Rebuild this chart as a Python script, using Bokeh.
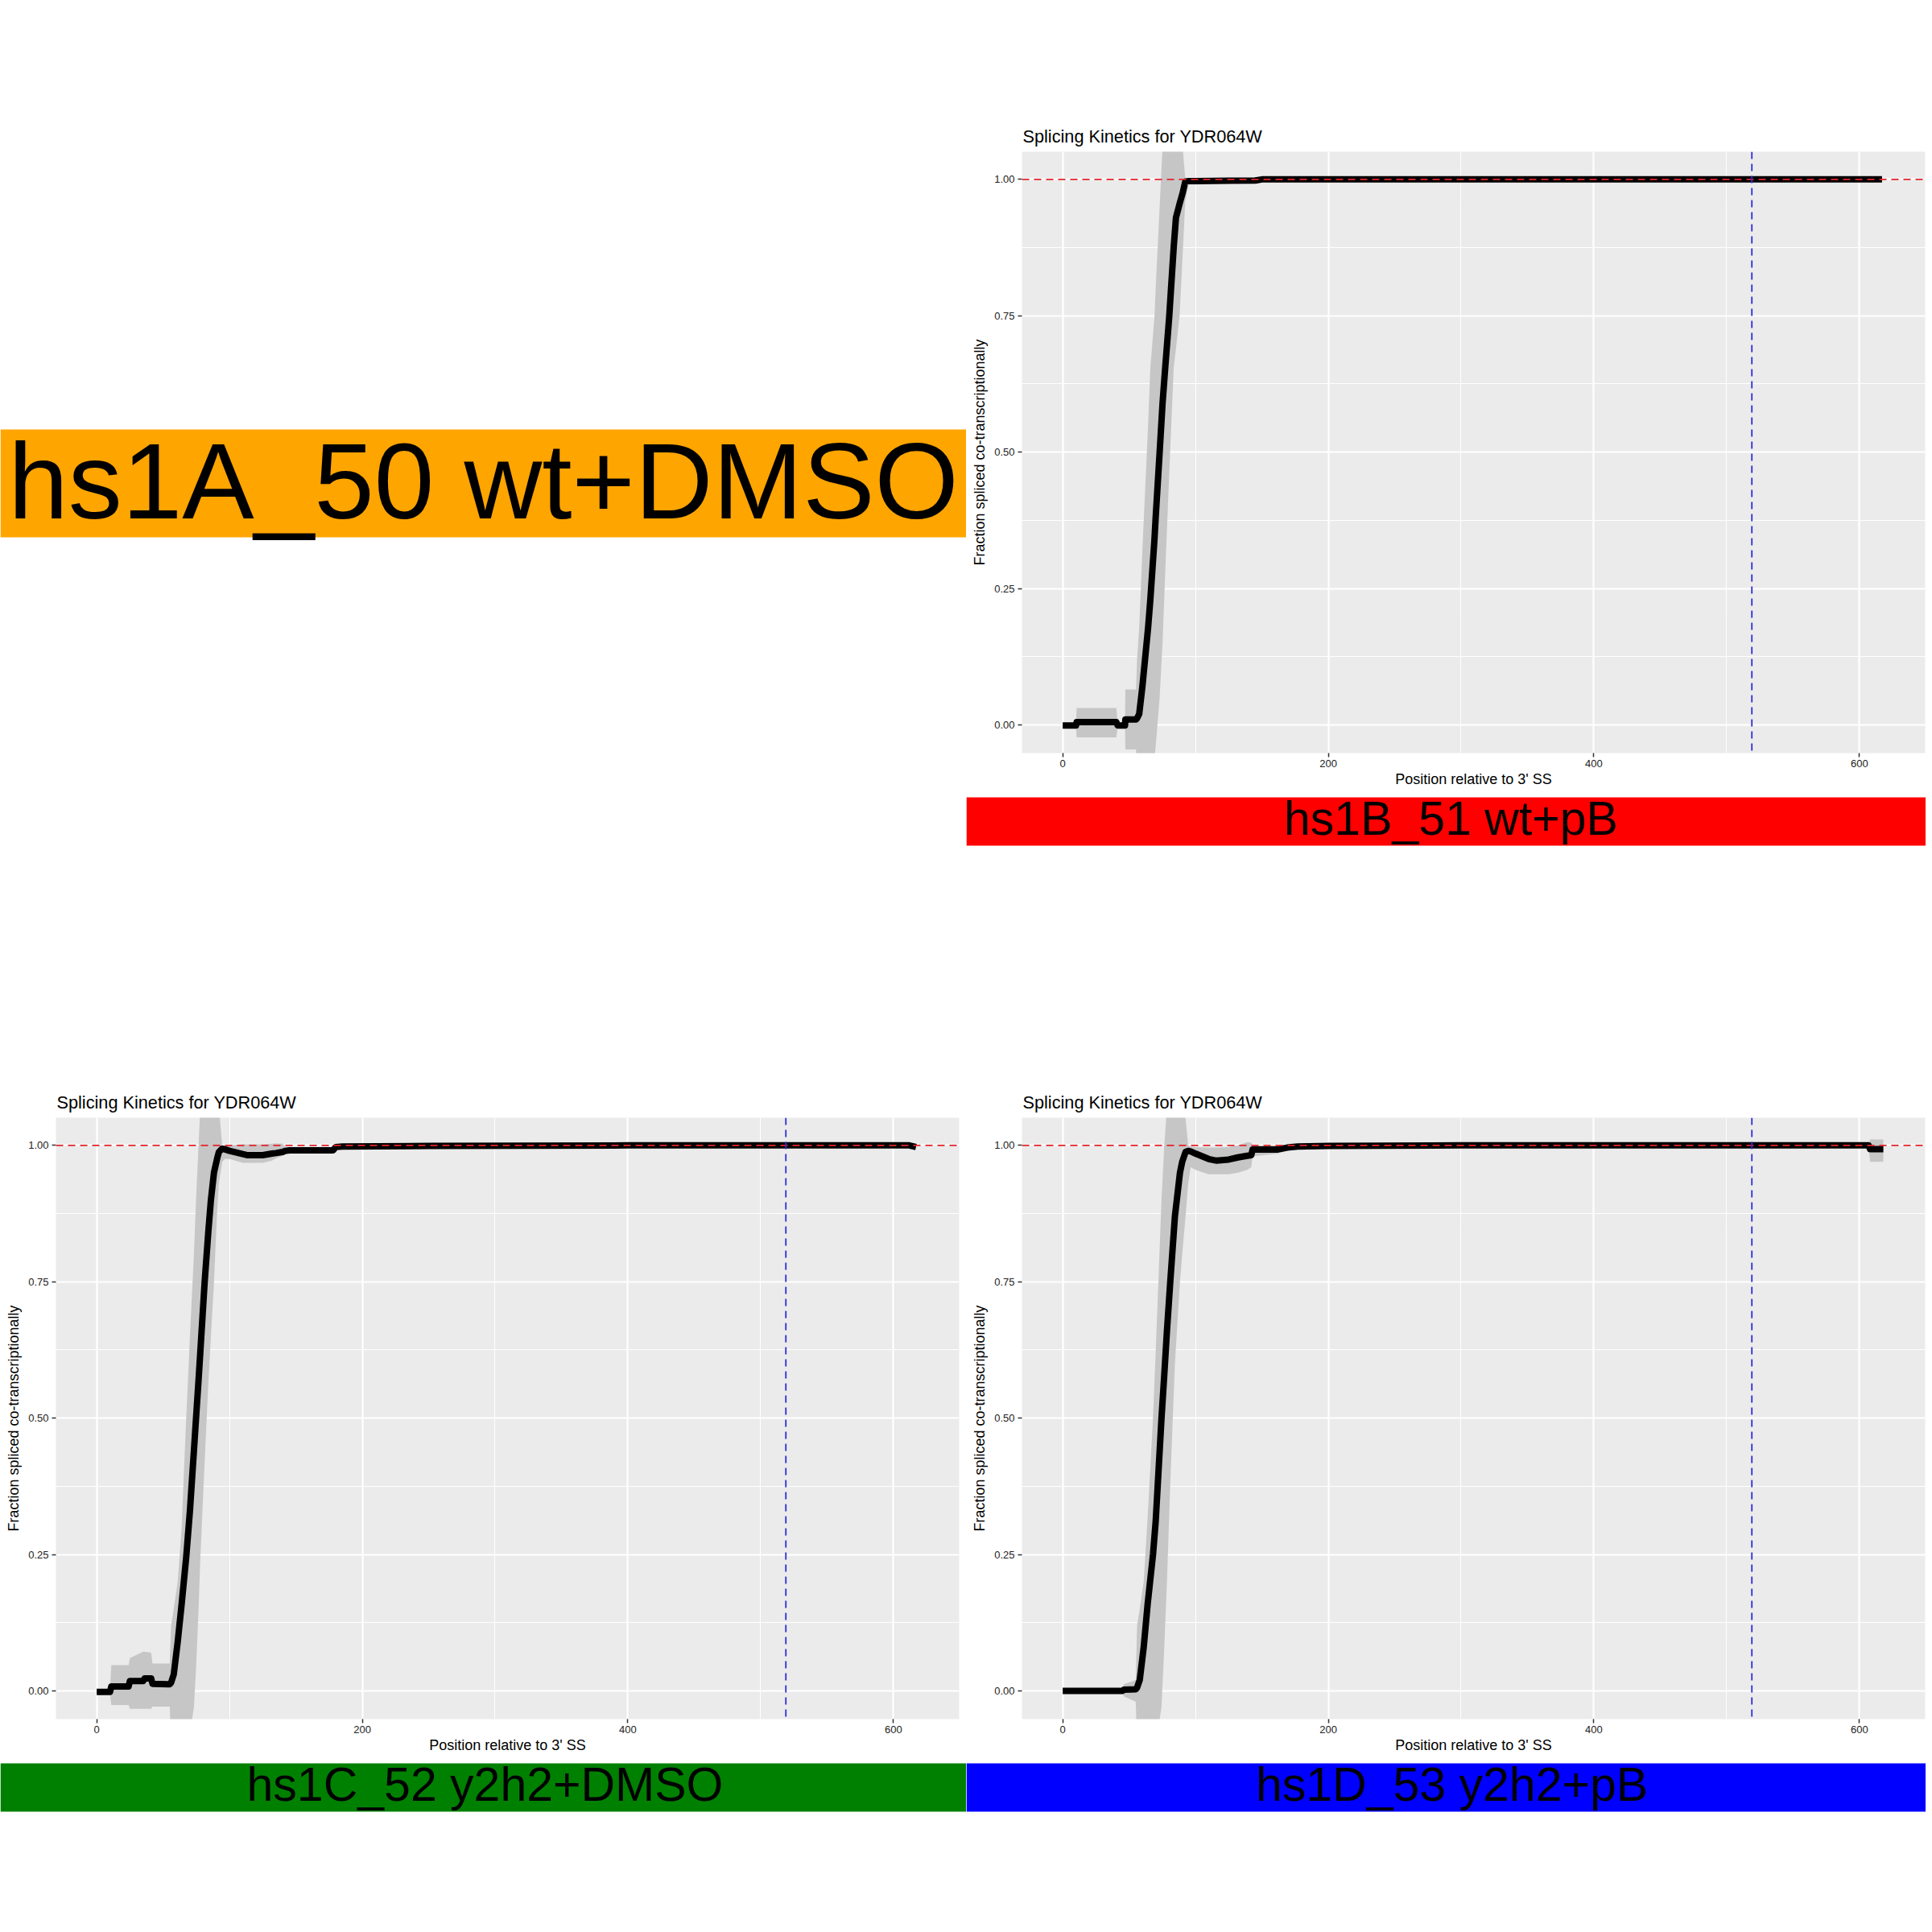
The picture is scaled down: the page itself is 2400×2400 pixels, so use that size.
from bokeh.plotting import figure
from bokeh.models import Range1d, FixedTicker, Span, Label, Spacer, BoxAnnotation
from bokeh.layouts import column, row
from bokeh.embed import file_html
from bokeh.resources import INLINE

# ---------------- data ----------------
plot_title = "Splicing Kinetics for YDR064W"
x_label = "Position relative to 3' SS"
y_label = "Fraction spliced co-transcriptionally"
x_ticks = [0, 200, 400, 600]
x_minor = [100, 300, 500]
y_ticks = [0.0, 0.25, 0.5, 0.75, 1.0]
y_tick_labels = ["0.00", "0.25", "0.50", "0.75", "1.00"]
y_minor = [0.125, 0.375, 0.625, 0.875]
h_ref = 1.0
v_ref = 519

sample_labels = ["hs1A_50 wt+DMSO", "hs1B_51 wt+pB", "hs1C_52 y2h2+DMSO", "hs1D_53 y2h2+pB"]
sample_colors = ["#FFA500", "#FF0000", "#008000", "#0000FF"]

# hs1B_51 wt+pB
b_x = [0, 10, 10.5, 40.4, 41.4, 46.9, 47.2, 55.2, 56, 57.6, 60, 64.3, 66, 69.1, 70, 73, 75.2, 77.2, 80.2,
       83.6, 85.3, 88, 90.3, 92.3, 95, 100, 145, 150, 617]
b_y = [-0.001, -0.001, 0.005, 0.005, -0.001, -0.001, 0.01, 0.01, 0.012, 0.02, 0.07, 0.178, 0.23, 0.34, 0.38,
       0.5, 0.59, 0.655, 0.748, 0.876, 0.93, 0.955, 0.975, 0.996, 0.997, 0.997, 0.998, 1.0, 1.0]
b_hi = [0.001, 0.001, 0.031, 0.031, 0.002, 0.002, 0.065, 0.065, 0.12, 0.178, 0.32, 0.55, 0.655, 0.748, 0.80,
        0.95, 1.06, 1.06, 1.06, 1.06, 1.06, 1.06, 1.06, 1.0, 0.999, 0.999, 0.999, 1.001, 1.001]
b_lo = [-0.003, -0.003, -0.023, -0.023, -0.004, -0.004, -0.045, -0.045, -0.1, -0.1, -0.1, -0.1, -0.1, -0.06,
        -0.04, 0.05, 0.15, 0.28, 0.46, 0.655, 0.69, 0.75, 0.86, 0.96, 0.993, 0.995, 0.996, 0.999, 0.999]

# hs1C_52 y2h2+DMSO
c_x = [0, 10, 11, 24, 25, 35, 36, 41, 42, 54, 55, 56, 58, 61, 64, 66, 67.4, 70.2, 73.2, 74.8,
       76.7, 78, 81.3, 84, 86, 88.3, 90.6, 92, 94.5, 96.4, 100, 110, 113.7, 125, 132, 135, 140, 142, 145, 178,
       180, 185, 250, 400, 612, 617]
c_y = [-0.002, -0.002, 0.008, 0.008, 0.018, 0.018, 0.023, 0.023, 0.013, 0.012, 0.012, 0.015, 0.03, 0.09,
       0.16, 0.21, 0.245, 0.33, 0.44, 0.50, 0.57, 0.62, 0.75, 0.84, 0.90, 0.95, 0.975, 0.988, 0.994, 0.993,
       0.99, 0.984, 0.982, 0.982, 0.985, 0.986, 0.988, 0.99, 0.991, 0.991, 0.997, 0.998, 0.999, 1.0, 1.0, 0.997]
c_hi = [0.001, 0.001, 0.047, 0.047, 0.06, 0.072, 0.072, 0.07, 0.05, 0.05, 0.05, 0.12, 0.15, 0.2, 0.3,
        0.42, 0.5, 0.65, 0.8, 0.9, 1.0, 1.07, 1.07, 1.07, 1.07, 1.07, 1.07, 1.07, 1.0, 1.0,
        1.0, 1.002, 1.002, 1.002, 1.003, 1.004, 1.003, 0.997, 0.996, 0.996, 1.0, 1.001, 1.001, 1.001, 1.001, 1.0]
c_lo = [-0.004, -0.004, -0.026, -0.026, -0.033, -0.033, -0.033, -0.033, -0.029, -0.029, -0.029, -0.10, -0.10,
        -0.10, -0.10, -0.10, -0.10, -0.08, -0.03, 0.04, 0.15, 0.24, 0.42, 0.56, 0.65, 0.748, 0.874, 0.93, 0.97,
        0.975, 0.975, 0.968, 0.968, 0.968, 0.972, 0.976, 0.981, 0.983, 0.985, 0.988, 0.995, 0.996, 0.997,
        0.999, 0.999, 0.993]

# hs1D_53 y2h2+pB
d_x = [0, 45, 46, 55, 56, 58, 61, 64, 68, 70, 74.4, 76.5, 78.5, 81, 84.5, 88.3, 90, 92.5, 94.5, 96.4,
       100, 110, 116, 125, 132, 139, 142, 143, 162, 169, 177, 200, 300, 607, 608, 618]
d_y = [0.0, 0.0, 0.002, 0.003, 0.006, 0.02, 0.08, 0.16, 0.25, 0.31, 0.50, 0.58, 0.66, 0.75, 0.87, 0.95,
       0.97, 0.988, 0.99, 0.989, 0.985, 0.975, 0.972, 0.974, 0.978, 0.981, 0.982, 0.9925, 0.9925, 0.996,
       0.998, 0.999, 1.0, 1.0, 0.993, 0.993]
d_hi = [0.002, 0.002, 0.012, 0.02, 0.12, 0.15, 0.2, 0.32, 0.5, 0.62, 0.9, 1.0, 1.07, 1.07, 1.07, 1.07,
        1.07, 1.05, 1.0, 0.998, 0.997, 0.996, 0.996, 0.997, 1.0, 1.006, 1.005, 1.0, 1.0, 1.0, 1.0, 1.001,
        1.001, 1.003, 1.011, 1.011]
d_lo = [-0.002, -0.002, -0.01, -0.02, -0.1, -0.1, -0.1, -0.1, -0.1, -0.1, -0.03, 0.08, 0.2, 0.38, 0.6,
        0.75, 0.8, 0.87, 0.93, 0.96, 0.955, 0.947, 0.947, 0.947, 0.95, 0.955, 0.96, 0.98, 0.985, 0.99,
        0.996, 0.997, 0.999, 0.997, 0.970, 0.970]

FONT = "Liberation Sans"
LEFT_W = 1200
RIGHT_W = 1192


def kinetics_panel(xs, ys, lo, hi, width, border_left, border_right):
    p = figure(width=width, height=840, x_range=Range1d(-30.7, 649.5), y_range=Range1d(-0.0517, 1.0507),
               toolbar_location=None, output_backend="svg", frame_align=False,
               min_border_left=border_left, min_border_right=border_right,
               min_border_top=48, min_border_bottom=44,
               background_fill_color="#EBEBEB", border_fill_color="white", outline_line_color=None)
    p.title.text = plot_title
    p.title.text_font = FONT
    p.title.text_font_size = "21.7px"
    p.title.text_font_style = "normal"
    p.title.text_color = "black"
    p.title.align = "left"
    p.title.offset = 1
    p.title.standoff = 13

    xt = FixedTicker(ticks=x_ticks, minor_ticks=x_minor)
    yt = FixedTicker(ticks=y_ticks, minor_ticks=y_minor)
    p.xaxis.ticker = xt
    p.yaxis.ticker = yt
    p.xgrid.ticker = xt
    p.ygrid.ticker = yt
    p.yaxis.major_label_overrides = {t: s for t, s in zip(y_ticks, y_tick_labels)}
    p.xaxis.major_label_overrides = {t: str(t) for t in x_ticks}
    p.xaxis.axis_label = x_label
    p.yaxis.axis_label = y_label
    for ax in (p.xaxis, p.yaxis):
        ax.axis_line_color = None
        ax.major_tick_in = 0
        ax.major_tick_out = 5
        ax.major_tick_line_color = "#333333"
        ax.major_tick_line_width = 1.5
        ax.minor_tick_line_color = None
        ax.major_label_text_font = FONT
        ax.major_label_text_font_size = "13px"
        ax.major_label_text_color = "#222222"
        ax.axis_label_text_font = FONT
        ax.axis_label_text_font_size = "18px"
        ax.axis_label_text_font_style = "normal"
        ax.axis_label_text_color = "black"
    p.xaxis.major_label_standoff = 3
    p.yaxis.major_label_standoff = 4
    p.xaxis.axis_label_standoff = 2
    p.yaxis.axis_label_standoff = 5
    for g in (p.xgrid, p.ygrid):
        g.grid_line_color = "white"
        g.grid_line_width = 2.2
        g.minor_grid_line_color = "white"
        g.minor_grid_line_width = 1.1

    p.varea(x=xs, y1=lo, y2=hi, fill_color="#C6C6C6", fill_alpha=1.0)
    p.line(x=xs, y=ys, line_color="black", line_width=8, line_join="round")
    p.add_layout(Span(location=h_ref, dimension="width", line_color="#E3242B", line_dash="9 6", line_width=1.8))
    p.add_layout(Span(location=v_ref, dimension="height", line_color="#2E2ED6", line_dash="9 6", line_width=1.8))
    return p


def banner(text, color, width, fig_h, strip_top, strip_bottom, font_px, cx, text_y):
    # strip_top / strip_bottom / text_y measured upward from the bottom of this figure
    b = figure(width=width, height=fig_h, x_range=Range1d(0, width), y_range=Range1d(0, fig_h),
               x_axis_type=None, y_axis_type=None, frame_align=False,
               toolbar_location=None, output_backend="svg", min_border=0,
               background_fill_color="white", border_fill_color="white", outline_line_color=None)
    b.grid.visible = False
    b.add_layout(BoxAnnotation(bottom=strip_bottom, top=strip_top, fill_color=color, fill_alpha=1.0,
                               line_color=None))
    b.add_layout(Label(x=cx, y=text_y, text=text,
                       text_align="center", text_baseline="alphabetic",
                       text_font=FONT, text_font_size=f"{font_px}px", text_color="black"))
    return b


ban_a = banner(sample_labels[0], sample_colors[0], LEFT_W, 400, 267, 133, 134, 600, 203)
ban_b = banner(sample_labels[1], sample_colors[1], RIGHT_W, 220, 210, 150, 59, 602, 184)
ban_c = banner(sample_labels[2], sample_colors[2], LEFT_W, 200, 190, 130, 59, 602, 164)
ban_d = banner(sample_labels[3], sample_colors[3], RIGHT_W, 200, 190, 130, 59, 603, 164)

fig_b = kinetics_panel(b_x, b_y, b_lo, b_hi, RIGHT_W, 69, 1)
fig_c = kinetics_panel(c_x, c_y, c_lo, c_hi, LEFT_W, 69, 9)
fig_d = kinetics_panel(d_x, d_y, d_lo, d_hi, RIGHT_W, 69, 1)

top_left = column(Spacer(width=LEFT_W, height=400), ban_a, Spacer(width=LEFT_W, height=400))
top_right = column(Spacer(width=RIGHT_W, height=140), fig_b, ban_b)
bottom_left = column(Spacer(width=LEFT_W, height=140), fig_c, ban_c)
bottom_right = column(Spacer(width=RIGHT_W, height=140), fig_d, ban_d)

layout = column(row(top_left, top_right), row(bottom_left, bottom_right))

open("out.html", "w").write(file_html(layout, INLINE))
